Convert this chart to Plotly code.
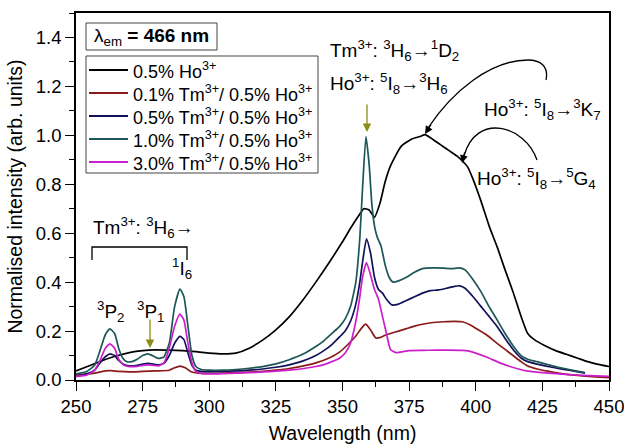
import plotly.graph_objects as go

# ---------------- data ----------------
wl_ho = [250, 255, 260, 265, 270, 275, 280, 285, 290, 295, 300, 305, 310, 315, 320, 325, 330, 335, 340,
         345, 350, 353, 356, 358, 360, 362, 364, 366, 368, 372, 376, 379, 381, 383, 385, 387, 389, 391,
         393, 395, 397, 399, 402, 405, 408, 411, 414, 417, 419.5, 422, 426, 430, 434, 438, 442, 446, 450]
ho_only = [0.037, 0.058, 0.08, 0.098, 0.112, 0.12, 0.123, 0.122, 0.12, 0.116, 0.11, 0.107, 0.11, 0.13,
           0.163, 0.205, 0.258, 0.325, 0.40, 0.48, 0.565, 0.62, 0.67, 0.70, 0.695, 0.665, 0.72, 0.81,
           0.875, 0.955, 0.985, 0.995, 1.003, 0.99, 0.975, 0.96, 0.945, 0.93, 0.915, 0.895, 0.87, 0.82,
           0.73, 0.63, 0.545, 0.45, 0.36, 0.26, 0.19, 0.165, 0.14, 0.12, 0.105, 0.09, 0.075, 0.064, 0.055]

wl_tm01 = [250, 255, 258, 261, 263, 266, 270, 275, 280, 285, 287, 289, 291, 293, 296, 300, 305, 310, 315,
           320, 325, 330, 335, 340, 345, 349, 352, 355, 357, 358.7, 360.5, 362.5, 364, 366, 368, 371, 374,
           377, 380, 384, 388, 392, 395, 398, 401, 404, 408, 411, 414, 417, 419.5, 423, 427, 431, 435,
           440, 445, 450]
tm01 = [0.02, 0.025, 0.03, 0.037, 0.038, 0.035, 0.033, 0.035, 0.037, 0.04, 0.05, 0.057, 0.05, 0.035, 0.028,
        0.027, 0.028, 0.03, 0.032, 0.035, 0.04, 0.047, 0.057, 0.07, 0.09, 0.115, 0.145, 0.18, 0.21, 0.228,
        0.205, 0.172, 0.173, 0.183, 0.19, 0.2, 0.21, 0.22, 0.228, 0.235, 0.238, 0.24, 0.238, 0.225, 0.205,
        0.185, 0.15, 0.125, 0.1, 0.075, 0.057, 0.045, 0.036, 0.028, 0.022, 0.017, 0.013, 0.01]

wl_tm05 = [250, 254, 257, 259, 261, 262.7, 264.5, 266, 268, 270, 273, 275, 277, 279, 281, 283, 285, 287, 289,
           290.5, 292, 293.5, 295, 297, 300, 305, 310, 315, 320, 325, 330, 335, 340, 343, 346, 349, 351,
           353, 355, 356.5, 357.5, 359, 360.5, 362, 363.5, 365, 366.5, 368.5, 371, 374, 377, 380, 383, 386,
           389, 392, 394, 396, 399, 402, 405, 408, 411, 414, 417, 419.5, 423, 427, 431, 435, 438, 441]
tm05 = [0.015, 0.025, 0.04, 0.07, 0.095, 0.107, 0.10, 0.08, 0.063, 0.058, 0.06, 0.065, 0.068, 0.065, 0.062,
        0.068, 0.10, 0.15, 0.178, 0.165, 0.11, 0.06, 0.04, 0.035, 0.034, 0.035, 0.037, 0.04, 0.045, 0.052,
        0.062, 0.077, 0.10, 0.12, 0.145, 0.177, 0.2, 0.24, 0.31, 0.40, 0.48, 0.577, 0.52, 0.42, 0.37, 0.355,
        0.33, 0.307, 0.31, 0.325, 0.34, 0.355, 0.365, 0.368, 0.375, 0.383, 0.385, 0.375, 0.34, 0.30, 0.26,
        0.219, 0.17, 0.125, 0.09, 0.075, 0.065, 0.055, 0.047, 0.04, 0.034, 0.028]

wl_tm10 = [250, 254, 257, 259, 261, 262.7, 264.5, 266, 267.5, 269, 271, 273, 275, 277, 279, 281, 283, 285,
           287, 289, 290.5, 292, 293.5, 295, 297, 300, 305, 310, 315, 320, 325, 330, 335, 340, 343, 346,
           349, 351, 353, 355, 356.5, 357.5, 358.8, 360, 361, 362, 363, 364.5, 366, 367.5, 369, 371, 374,
           377, 380, 384, 388, 391, 394, 396, 399, 402, 405, 408, 411, 414, 417, 419.5, 423, 427, 431, 435,
           438, 441]
tm10 = [0.025, 0.035, 0.06, 0.12, 0.185, 0.209, 0.19, 0.13, 0.09, 0.075, 0.075, 0.085, 0.1, 0.107, 0.098,
        0.088, 0.095, 0.15, 0.30, 0.372, 0.34, 0.22, 0.10, 0.055, 0.043, 0.04, 0.04, 0.043, 0.048, 0.055,
        0.066, 0.083, 0.105, 0.137, 0.16, 0.19, 0.22, 0.25, 0.30, 0.40, 0.58, 0.78, 0.995, 0.88, 0.72, 0.63,
        0.585, 0.546, 0.47, 0.42, 0.40, 0.405, 0.42, 0.44, 0.455, 0.458, 0.457, 0.455, 0.458, 0.45, 0.41,
        0.36, 0.30, 0.246, 0.19, 0.14, 0.10, 0.085, 0.075, 0.063, 0.052, 0.043, 0.036, 0.03]

wl_tm30 = [250, 254, 257, 259, 261, 262.7, 264.5, 266, 268, 270, 273, 275, 277, 279, 281, 283, 285, 287, 289,
           290.5, 292, 293.5, 295, 297, 300, 305, 310, 315, 320, 325, 330, 335, 340, 343, 346, 349, 351,
           353, 355, 356.5, 357.5, 359, 360.5, 362, 363.5, 365, 366.5, 368, 370, 375, 380, 385, 390, 395,
           397, 400, 404, 408, 412, 416, 419, 425, 430, 435, 440, 445, 450]
tm30 = [0.015, 0.02, 0.04, 0.08, 0.13, 0.148, 0.13, 0.085, 0.06, 0.055, 0.056, 0.06, 0.062, 0.06, 0.058,
        0.07, 0.13, 0.22, 0.269, 0.245, 0.15, 0.07, 0.035, 0.027, 0.025, 0.026, 0.028, 0.03, 0.033, 0.036,
        0.04, 0.046, 0.055, 0.063, 0.075, 0.09, 0.11, 0.15, 0.24, 0.34, 0.42, 0.48, 0.43, 0.37, 0.33, 0.26,
        0.19, 0.125, 0.112, 0.12, 0.121, 0.122, 0.122, 0.121, 0.119, 0.11, 0.094, 0.075, 0.058, 0.045,
        0.037, 0.03, 0.026, 0.022, 0.019, 0.017, 0.015]

series_names = ["0.5% Ho<sup>3+</sup>",
                "0.1% Tm<sup>3+</sup>/ 0.5% Ho<sup>3+</sup>",
                "0.5% Tm<sup>3+</sup>/ 0.5% Ho<sup>3+</sup>",
                "1.0% Tm<sup>3+</sup>/ 0.5% Ho<sup>3+</sup>",
                "3.0% Tm<sup>3+</sup>/ 0.5% Ho<sup>3+</sup>"]
series_x = [wl_ho, wl_tm01, wl_tm05, wl_tm10, wl_tm30]
series_y = [ho_only, tm01, tm05, tm10, tm30]
series_colors = ["#000000", "#8b1a1a", "#12125a", "#1d5656", "#cc1fcc"]

x_ticks = [250, 275, 300, 325, 350, 375, 400, 425, 450]
y_ticks = [0.0, 0.2, 0.4, 0.6, 0.8, 1.0, 1.2, 1.4]

# ---------------- layout geometry ----------------
W, H = 624, 446
L, R, T, B = 76, 15, 13, 66
PW, PH = W - L - R, H - T - B
XR, YR = (250, 450), (0, 1.5)


def px2x(px):
    return XR[0] + (px - L) * (XR[1] - XR[0]) / PW


def px2y(py):
    return YR[0] + (T + PH - py) * (YR[1] - YR[0]) / PH


FONT = "Liberation Sans, Arial, sans-serif"

fig = go.Figure()
for name, xs, ys, col in zip(series_names, series_x, series_y, series_colors):
    fig.add_trace(go.Scatter(x=xs, y=ys, mode="lines", name=name, showlegend=False,
                             line=dict(color=col, width=1.7, shape="spline", smoothing=0.5)))

annotations = []
shapes = []

# legend box (drawn manually to match the reference's compact spacing)
LEG_X0, LEG_X1, LEG_Y0, LEG_Y1 = 86, 318, 56, 173
shapes.append(dict(type="rect", xref="x", yref="y", x0=px2x(LEG_X0), x1=px2x(LEG_X1),
                   y0=px2y(LEG_Y1), y1=px2y(LEG_Y0), line=dict(color="#444", width=1),
                   fillcolor="white", layer="above"))
for i, (name, col) in enumerate(zip(series_names, series_colors)):
    yc = 70 + i * 23
    shapes.append(dict(type="line", xref="x", yref="y", x0=px2x(89), x1=px2x(128), y0=px2y(yc), y1=px2y(yc),
                       line=dict(color=col, width=1.8), layer="above"))
    annotations.append(dict(x=px2x(131), y=px2y(yc), xref="x", yref="y", xanchor="left", yanchor="middle",
                            showarrow=False, text=name, font=dict(size=18, family=FONT, color="black")))

# lambda_em box
shapes.append(dict(type="rect", xref="x", yref="y", x0=px2x(86), x1=px2x(217), y0=px2y(50), y1=px2y(23),
                   line=dict(color="#444", width=1), fillcolor="white", layer="above"))
annotations.append(dict(x=px2x(151), y=px2y(37), xref="x", yref="y", showarrow=False,
                        text="λ<sub>em</sub> <b>= 466 nm</b>", font=dict(size=19, family=FONT, color="black")))

# top transition labels
lab_font = dict(size=19, family=FONT, color="black")
annotations.append(dict(x=px2x(328), y=px2y(50), xref="x", yref="y", xanchor="left", showarrow=False,
                        text="Tm<sup>3+</sup>: <sup>3</sup>H<sub>6</sub>→<sup>1</sup>D<sub>2</sub>", font=lab_font))
annotations.append(dict(x=px2x(328), y=px2y(83), xref="x", yref="y", xanchor="left", showarrow=False,
                        text="Ho<sup>3+</sup>: <sup>5</sup>I<sub>8</sub>→<sup>3</sup>H<sub>6</sub>", font=lab_font))
annotations.append(dict(x=px2x(482), y=px2y(109), xref="x", yref="y", xanchor="left", showarrow=False,
                        text="Ho<sup>3+</sup>: <sup>5</sup>I<sub>8</sub>→<sup>3</sup>K<sub>7</sub>", font=lab_font))
annotations.append(dict(x=px2x(475), y=px2y(178), xref="x", yref="y", xanchor="left", showarrow=False,
                        text="Ho<sup>3+</sup>: <sup>5</sup>I<sub>8</sub>→<sup>5</sup>G<sub>4</sub>", font=lab_font))

# Tm 3H6 group on the left
annotations.append(dict(x=px2x(91), y=px2y(227), xref="x", yref="y", xanchor="left", showarrow=False,
                        text="Tm<sup>3+</sup>: <sup>3</sup>H<sub>6</sub>→", font=lab_font))
annotations.append(dict(x=px2x(182), y=px2y(268), xref="x", yref="y", showarrow=False,
                        text="<sup>1</sup>I<sub>6</sub>", font=lab_font))
annotations.append(dict(x=px2x(111), y=px2y(311), xref="x", yref="y", showarrow=False,
                        text="<sup>3</sup>P<sub>2</sub>", font=lab_font))
annotations.append(dict(x=px2x(151), y=px2y(311), xref="x", yref="y", showarrow=False,
                        text="<sup>3</sup>P<sub>1</sub>", font=lab_font))

shapes.append(dict(type="path", xref="x", yref="y",
                   path="M %f,%f L %f,%f L %f,%f L %f,%f" % (px2x(92), px2y(260), px2x(92), px2y(247),
                                                             px2x(187), px2y(247), px2x(187), px2y(260)),
                   line=dict(color="black", width=1.3)))

# olive arrows
olive = "#8c8c14"
annotations.append(dict(x=px2x(367), y=px2y(132), ax=px2x(367), ay=px2y(103), xref="x", yref="y",
                        axref="x", ayref="y", text="", showarrow=True, arrowhead=2, arrowsize=1.3,
                        arrowwidth=1.3, arrowcolor=olive))
annotations.append(dict(x=px2x(150), y=px2y(348), ax=px2x(150), ay=px2y(318), xref="x", yref="y",
                        axref="x", ayref="y", text="", showarrow=True, arrowhead=2, arrowsize=1.3,
                        arrowwidth=1.3, arrowcolor=olive))


# curved black arrows
def bez(pts):
    s = "M %f,%f" % (px2x(pts[0][0]), px2y(pts[0][1]))
    i = 1
    while i < len(pts):
        s += " C %f,%f %f,%f %f,%f" % (px2x(pts[i][0]), px2y(pts[i][1]), px2x(pts[i + 1][0]),
                                       px2y(pts[i + 1][1]), px2x(pts[i + 2][0]), px2y(pts[i + 2][1]))
        i += 3
    return s


shapes.append(dict(type="path", xref="x", yref="y",
                   path=bez([(546, 80), (549, 66), (540, 60), (528, 60), (490, 60), (452, 92), (428, 128)]),
                   line=dict(color="black", width=1.3)))
annotations.append(dict(x=px2x(425), y=px2y(134), xref="x", yref="y", ax=7, ay=-11, text="",
                        showarrow=True, arrowhead=2, arrowsize=1.2, arrowwidth=1.3, arrowcolor="black"))
shapes.append(dict(type="path", xref="x", yref="y",
                   path=bez([(537, 160), (525, 125), (476, 112), (464, 156)]),
                   line=dict(color="black", width=1.3)))
annotations.append(dict(x=px2x(462), y=px2y(163), xref="x", yref="y", ax=3, ay=-12, text="",
                        showarrow=True, arrowhead=2, arrowsize=1.2, arrowwidth=1.3, arrowcolor="black"))

fig.update_layout(
    width=W, height=H,
    margin=dict(l=L, r=R, t=T, b=B, pad=0, autoexpand=False),
    paper_bgcolor="white", plot_bgcolor="white",
    font=dict(family=FONT, color="black", size=18),
    showlegend=False,
    annotations=annotations,
    shapes=shapes,
)

fig.update_xaxes(range=list(XR), tickvals=x_ticks, ticktext=[str(v) for v in x_ticks],
                 showline=True, linecolor="black", linewidth=1.5, mirror=True,
                 ticks="outside", ticklen=9, tickwidth=1.3, tickcolor="black",
                 minor=dict(ticks="outside", ticklen=5, tickwidth=1.2, tickcolor="black", dtick=12.5, tick0=250),
                 showgrid=False, zeroline=False, automargin=False, ticklabeloverflow="allow",
                 tickfont=dict(size=18.5, family=FONT),
                 title=dict(text="Wavelength (nm)", font=dict(size=19.5, family=FONT), standoff=10))
fig.update_yaxes(range=list(YR), tickvals=y_ticks, ticktext=["%.1f" % v for v in y_ticks],
                 showline=True, linecolor="black", linewidth=1.5, mirror=True,
                 ticks="outside", ticklen=9, tickwidth=1.3, tickcolor="black",
                 minor=dict(ticks="outside", ticklen=5, tickwidth=1.2, tickcolor="black", dtick=0.1, tick0=0),
                 showgrid=False, zeroline=False, automargin=False, ticklabeloverflow="allow",
                 tickfont=dict(size=18.5, family=FONT),
                 title=dict(text="Normalised intensity (arb. units)", font=dict(size=19.5, family=FONT),
                            standoff=8))

fig.write_html("out.html", config={"displayModeBar": False},
               post_script="document.body.style.margin='0';document.body.style.padding='0';")
